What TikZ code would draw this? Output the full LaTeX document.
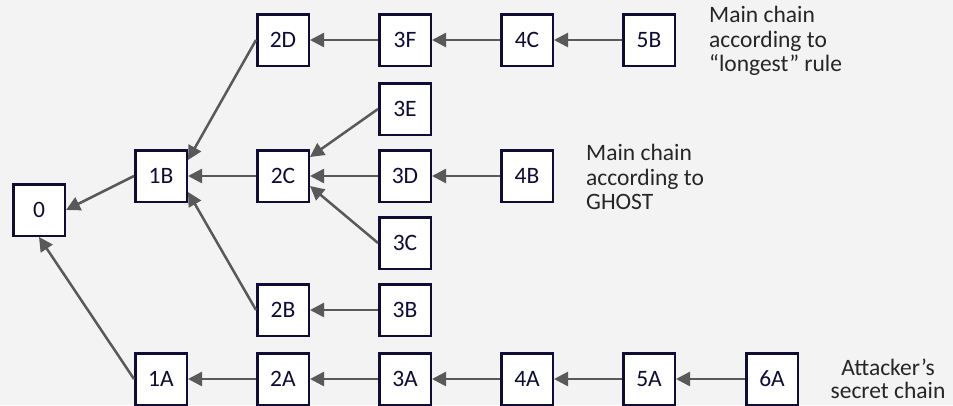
\documentclass[tikz,border=0pt]{standalone}
\usepackage{fontspec}
\setmainfont{Carlito}
\usetikzlibrary{arrows.meta}
\definecolor{bg}{HTML}{F3F3F3}
\definecolor{navy}{HTML}{0F0C36}
\definecolor{arr}{HTML}{595959}
\definecolor{lbl}{HTML}{262626}
\begin{document}
\begin{tikzpicture}[x=1pt,y=-1pt,
  blk/.style={draw=navy, line width=2.5pt, fill=white, minimum size=51.5pt, inner sep=0pt, text=navy, font=\fontsize{23.5}{26}\selectfont},
  link/.style={draw=arr, line width=2.5pt, -{Triangle[length=14pt,width=14pt]}},
  lab/.style={text=lbl, font=\fontsize{23.5}{24.5}\selectfont, inner sep=0pt}]
\fill[bg] (0,0) rectangle (953,405);
\useasboundingbox (0,0) rectangle (953,405);
\node[blk] (n0) at (39,210) {0};
\node[blk] (n1B) at (161,176) {1B};
\node[blk] (n1A) at (161,379) {1A};
\node[blk] (n2D) at (283,40) {2D};
\node[blk] (n2C) at (283,176) {2C};
\node[blk] (n2B) at (283,310) {2B};
\node[blk] (n2A) at (283,379) {2A};
\node[blk] (n3F) at (405,40) {3F};
\node[blk] (n3E) at (405,109) {3E};
\node[blk] (n3D) at (405,176) {3D};
\node[blk] (n3C) at (405,243) {3C};
\node[blk] (n3B) at (405,310) {3B};
\node[blk] (n3A) at (405,379) {3A};
\node[blk] (n4C) at (527,40) {4C};
\node[blk] (n4B) at (527,176) {4B};
\node[blk] (n4A) at (527,379) {4A};
\node[blk] (n5B) at (649,40) {5B};
\node[blk] (n5A) at (649,379) {5A};
\node[blk] (n6A) at (772,379) {6A};
\draw[link] (n3F) -- (n2D);
\draw[link] (n4C) -- (n3F);
\draw[link] (n5B) -- (n4C);
\draw[link] (n2D.west) -- ([yshift=16pt]n1B.east);
\draw[link] (n2C) -- (n1B);
\draw[link] (n2B.west) -- ([yshift=-16pt]n1B.east);
\draw[link] (n1B.west) -- (n0.east);
\draw[link] (n1A.west) -- (n0.south);
\draw[link] (n3E.west) -- ([yshift=19pt]n2C.east);
\draw[link] (n3D) -- (n2C);
\draw[link] (n3C.west) -- ([yshift=-10pt]n2C.east);
\draw[link] (n4B) -- (n3D);
\draw[link] (n3B) -- (n2B);
\draw[link] (n2A) -- (n1A);
\draw[link] (n3A) -- (n2A);
\draw[link] (n4A) -- (n3A);
\draw[link] (n5A) -- (n4A);
\draw[link] (n6A) -- (n5A);
\node[lab, anchor=north west, align=left] (llong) at (709,6) {Main chain\\according to\\“longest” rule};
\node[lab, anchor=north west, align=left] (lghost) at (586,144) {Main chain\\according to\\GHOST};
\node[lab, anchor=north, align=center, font=\fontsize{23.5}{22.5}\selectfont] (latt) at (888,359) {Attacker’s\\secret chain};
\end{tikzpicture}
\end{document}
